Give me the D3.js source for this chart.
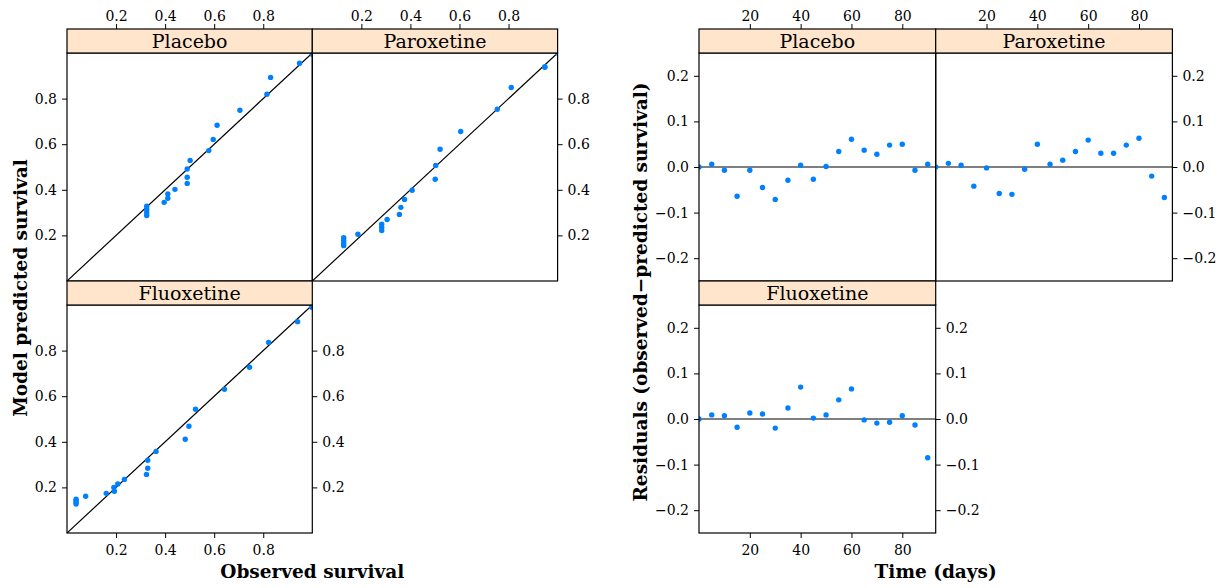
<!DOCTYPE html>
<html><head><meta charset="utf-8">
<script src="https://cdn.jsdelivr.net/npm/d3@7"></script>
<style>
body{margin:0;background:#fff}
</style>
</head><body>
<svg id="c" width="1219" height="588"></svg>
<script>
// ---------- data ----------
const groups = ["Placebo", "Paroxetine", "Fluoxetine"];

const placeboObserved   = [1.000, 1.000, 0.948, 0.830, 0.815, 0.705, 0.612, 0.596, 0.578, 0.502, 0.490, 0.490, 0.490, 0.440, 0.411, 0.411, 0.396, 0.325, 0.325, 0.325, 0.325];
const placeboPredicted  = [1.000, 0.994, 0.955, 0.893, 0.819, 0.749, 0.683, 0.621, 0.572, 0.529, 0.491, 0.455, 0.428, 0.402, 0.382, 0.363, 0.345, 0.328, 0.314, 0.300, 0.287];

const paroxetineObserved  = [1.000, 0.948, 0.948, 0.811, 0.754, 0.605, 0.521, 0.503, 0.501, 0.407, 0.376, 0.361, 0.355, 0.305, 0.283, 0.283, 0.283, 0.186, 0.128, 0.128, 0.128, 0.128];
const paroxetinePredicted = [1.000, 0.940, 0.937, 0.849, 0.753, 0.656, 0.578, 0.507, 0.446, 0.398, 0.358, 0.323, 0.292, 0.270, 0.249, 0.235, 0.221, 0.205, 0.190, 0.178, 0.166, 0.155];

const fluoxetineObserved  = [1.000, 0.998, 0.940, 0.822, 0.744, 0.642, 0.524, 0.497, 0.482, 0.363, 0.329, 0.329, 0.324, 0.234, 0.207, 0.191, 0.193, 0.160, 0.076, 0.037, 0.037, 0.037, 0.037];
const fluoxetinePredicted = [1.000, 0.990, 0.927, 0.836, 0.727, 0.630, 0.543, 0.468, 0.411, 0.358, 0.319, 0.284, 0.257, 0.235, 0.215, 0.200, 0.183, 0.174, 0.161, 0.148, 0.141, 0.134, 0.127];

const days = [0, 5, 10, 15, 20, 25, 30, 35, 40, 45, 50, 55, 60, 65, 70, 75, 80, 85, 90];
const placeboResid    = [0.000, 0.006, -0.007, -0.064, -0.007, -0.045, -0.071, -0.029, 0.004, -0.027, 0.001, 0.034, 0.061, 0.037, 0.028, 0.048, 0.050, -0.007, 0.006];
const paroxetineResid = [0.000, 0.008, 0.004, -0.042, -0.002, -0.058, -0.060, -0.005, 0.050, 0.006, 0.015, 0.034, 0.059, 0.030, 0.030, 0.048, 0.063, -0.020, -0.067];
const fluoxetineResid = [0.000, 0.009, 0.007, -0.018, 0.013, 0.011, -0.020, 0.024, 0.070, 0.002, 0.009, 0.042, 0.066, -0.002, -0.009, -0.007, 0.007, -0.013, -0.085];

const survivalTicks = [0.2, 0.4, 0.6, 0.8];
const dayTicks = [20, 40, 60, 80];
const residTicks = [-0.2, -0.1, 0.0, 0.1, 0.2];

// ---------- drawing ----------
const FONT = "'DejaVu Serif', 'Liberation Serif', serif";
const svg = d3.select("#c");
const zip = (a, b) => a.map((v, i) => [v, b[i]]);
const positions = [{col:0,row:0,top:true,left:true},{col:1,row:0,top:true,right:true},{col:0,row:1,bottom:true,left:true,right:true}];

function styleAxis(g){
  g.select(".domain").remove();
  g.attr("font-family", null).attr("font-size", null);
  g.selectAll("line").attr("stroke", "#000");
  g.selectAll("text").style("font-family", FONT).style("font-size", "14px").attr("fill", "#000");
}

function lattice(cfg){
  cfg.panels.forEach((p, i) => {
    const pos = positions[i];
    const px = cfg.colX[pos.col], sy = cfg.rowTop[pos.row], py = sy + cfg.stripH;
    const xs = d3.scaleLinear().domain(cfg.xDomain).range([px, px + cfg.pw]);
    const ys = d3.scaleLinear().domain(cfg.yDomain).range([py + cfg.ph, py]);
    const id = cfg.id + i;
    svg.append("clipPath").attr("id", id).append("rect")
      .attr("x", px).attr("y", py).attr("width", cfg.pw).attr("height", cfg.ph);
    const g = svg.append("g").attr("clip-path", `url(#${id})`);
    if (cfg.ref === "diag") {
      g.append("line").attr("x1", xs(0)).attr("y1", ys(0)).attr("x2", xs(1)).attr("y2", ys(1))
        .attr("stroke", "#000").attr("stroke-width", 1.2);
    } else {
      g.append("line").attr("x1", xs(cfg.xDomain[0])).attr("x2", xs(cfg.xDomain[1]))
        .attr("y1", ys(0)).attr("y2", ys(0)).attr("stroke", "#000").attr("stroke-width", 1.2);
    }
    g.selectAll("circle").data(p.points).join("circle")
      .attr("cx", d => xs(d[0])).attr("cy", d => ys(d[1])).attr("r", 2.7).attr("fill", "#0080ff");
    svg.append("rect").attr("x", px).attr("y", py).attr("width", cfg.pw).attr("height", cfg.ph)
      .attr("fill", "none").attr("stroke", "#000").attr("stroke-width", 1.2);
    svg.append("rect").attr("x", px).attr("y", sy).attr("width", cfg.pw).attr("height", cfg.stripH)
      .attr("fill", "#ffe5cc").attr("stroke", "#000").attr("stroke-width", 1.2);
    svg.append("text").attr("x", px + cfg.pw / 2).attr("y", sy + cfg.stripH / 2 + 7)
      .attr("text-anchor", "middle").style("font-family", FONT).style("font-size", "19px").attr("fill", "#000").text(p.name);
    if (pos.top) svg.append("g").attr("transform", `translate(0,${sy})`)
      .call(d3.axisTop(xs).tickValues(cfg.xTicks).tickFormat(cfg.xFmt).tickSize(5).tickPadding(3)).call(styleAxis);
    if (pos.bottom) svg.append("g").attr("transform", `translate(0,${py + cfg.ph})`)
      .call(d3.axisBottom(xs).tickValues(cfg.xTicks).tickFormat(cfg.xFmt).tickSize(5).tickPadding(7)).call(styleAxis);
    if (pos.left) svg.append("g").attr("transform", `translate(${px},0)`)
      .call(d3.axisLeft(ys).tickValues(cfg.yTicks).tickFormat(cfg.yFmt).tickSize(5).tickPadding(5)).call(styleAxis);
    if (pos.right) svg.append("g").attr("transform", `translate(${px + cfg.pw},0)`)
      .call(d3.axisRight(ys).tickValues(cfg.yTicks).tickFormat(cfg.yFmt).tickSize(5).tickPadding(5)).call(styleAxis);
  });
  // axis titles
  const cx = (cfg.colX[0] + cfg.colX[1] + cfg.pw) / 2;
  svg.append("text").attr("x", cx).attr("y", 578).attr("text-anchor", "middle")
    .style("font-family", FONT).style("font-size", "18.5px").style("font-weight", "bold").attr("fill", "#000").text(cfg.xlab);
  svg.append("text").attr("transform", `translate(${cfg.ylabX},${cfg.ylabY}) rotate(-90)`).attr("text-anchor", "middle")
    .style("font-family", FONT).style("font-size", "18.5px").style("font-weight", "bold").attr("fill", "#000").text(cfg.ylab);
}

lattice({
  id: "L", colX: [67, 312.3], pw: 245.3, ph: 228, stripH: 24, rowTop: [29, 281],
  xDomain: [0, 1], yDomain: [0, 1], xTicks: survivalTicks, yTicks: survivalTicks,
  xFmt: d3.format(".1f"), yFmt: d3.format(".1f"), ref: "diag",
  xlab: "Observed survival", ylab: "Model predicted survival", ylabX: 27, ylabY: 288,
  panels: [
    {name: groups[0], points: zip(placeboObserved, placeboPredicted)},
    {name: groups[1], points: zip(paroxetineObserved, paroxetinePredicted)},
    {name: groups[2], points: zip(fluoxetineObserved, fluoxetinePredicted)}
  ]
});

lattice({
  id: "R", colX: [699, 935.7], pw: 236.7, ph: 228, stripH: 24, rowTop: [29, 281],
  xDomain: [0, 93.15], yDomain: [-0.25, 0.25], xTicks: dayTicks, yTicks: residTicks,
  xFmt: d3.format("d"), yFmt: d3.format(".1f"), ref: "zero",
  xlab: "Time (days)", ylab: "Residuals (observed\u2212predicted survival)", ylabX: 647, ylabY: 292,
  panels: [
    {name: groups[0], points: zip(days, placeboResid)},
    {name: groups[1], points: zip(days, paroxetineResid)},
    {name: groups[2], points: zip(days, fluoxetineResid)}
  ]
});
</script>
</body></html>
